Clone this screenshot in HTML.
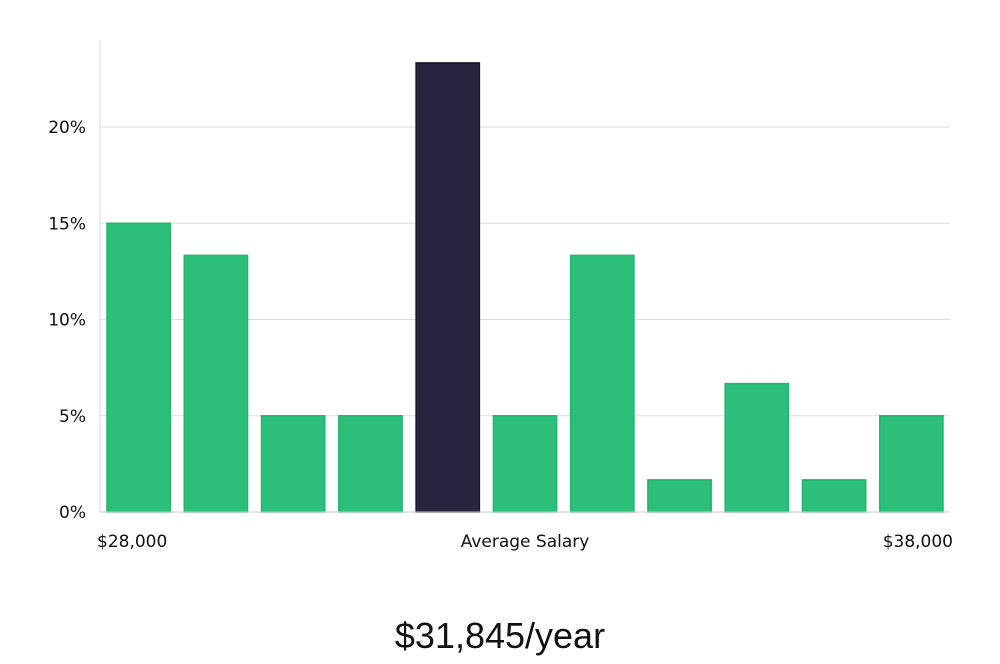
<!DOCTYPE html>
<html><head><meta charset="utf-8"><style>
body{margin:0;background:#fff;width:1000px;height:660px;overflow:hidden;font-family:"DejaVu Sans","Liberation Sans",sans-serif;}
</style></head><body>
<svg id="chart" width="1000" height="660" xmlns="http://www.w3.org/2000/svg"></svg>
<script>
const categories=["b1","b2","b3","b4","b5","b6","b7","b8","b9","b10","b11"];
const values=[15,13.33,5,5,23.33,5,13.33,1.67,6.67,1.67,5];
const highlight=[false,false,false,false,true,false,false,false,false,false,false];
const yTicks=[0,5,10,15,20];
const xLabels=["$28,000","Average Salary","$38,000"];
const ns="http://www.w3.org/2000/svg";
const svg=document.getElementById('chart');
const L=100,R=950,B=512,T=40;
const y=v=>B-v*19.25;
const slot=(R-L)/categories.length;
const x=i=>L+i*slot;
function mk(t,a,txt){const e=document.createElementNS(ns,t);for(const k in a)e.setAttribute(k,a[k]);if(txt!=null)e.textContent=txt;svg.appendChild(e);return e;}
yTicks.forEach(t=>{
 if(t>0){const g=mk('line',{x1:L,x2:R,y1:y(t),y2:y(t),stroke:'#dddddd','stroke-width':1});
 
 }
 const lb=mk('text',{x:L-14,y:y(t)+6,'text-anchor':'end','font-size':17,fill:'#111'},t+'%');
 
 
});
const ax=mk('line',{x1:L,x2:L,y1:T,y2:B,stroke:'#d8d8d8','stroke-width':1});


values.forEach((v,i)=>{
 const r=mk('rect',{x:x(i)+7,y:y(v),width:slot-14,height:B-y(v),fill:highlight[i]?'#28243f':'#2bbf7a',stroke:highlight[i]?'#1a172c':'#24b56f','stroke-width':1.5});
 
 
});
const bx=mk('line',{x1:L,x2:R,y1:B,y2:B,stroke:'#cccccc','stroke-width':1});


const xl=[[97,'start'],[525,'middle'],[953,'end']];
xLabels.forEach((t,i)=>{
 const e=mk('text',{x:xl[i][0],y:547,'text-anchor':xl[i][1],'font-size':17,fill:'#111'},t);
 
 
});
const ttl=mk('text',{x:500,y:648,'text-anchor':'middle','font-size':36,fill:'#111','font-family':'"Liberation Sans",sans-serif'},'$31,845/year');


</script>
</body></html>
